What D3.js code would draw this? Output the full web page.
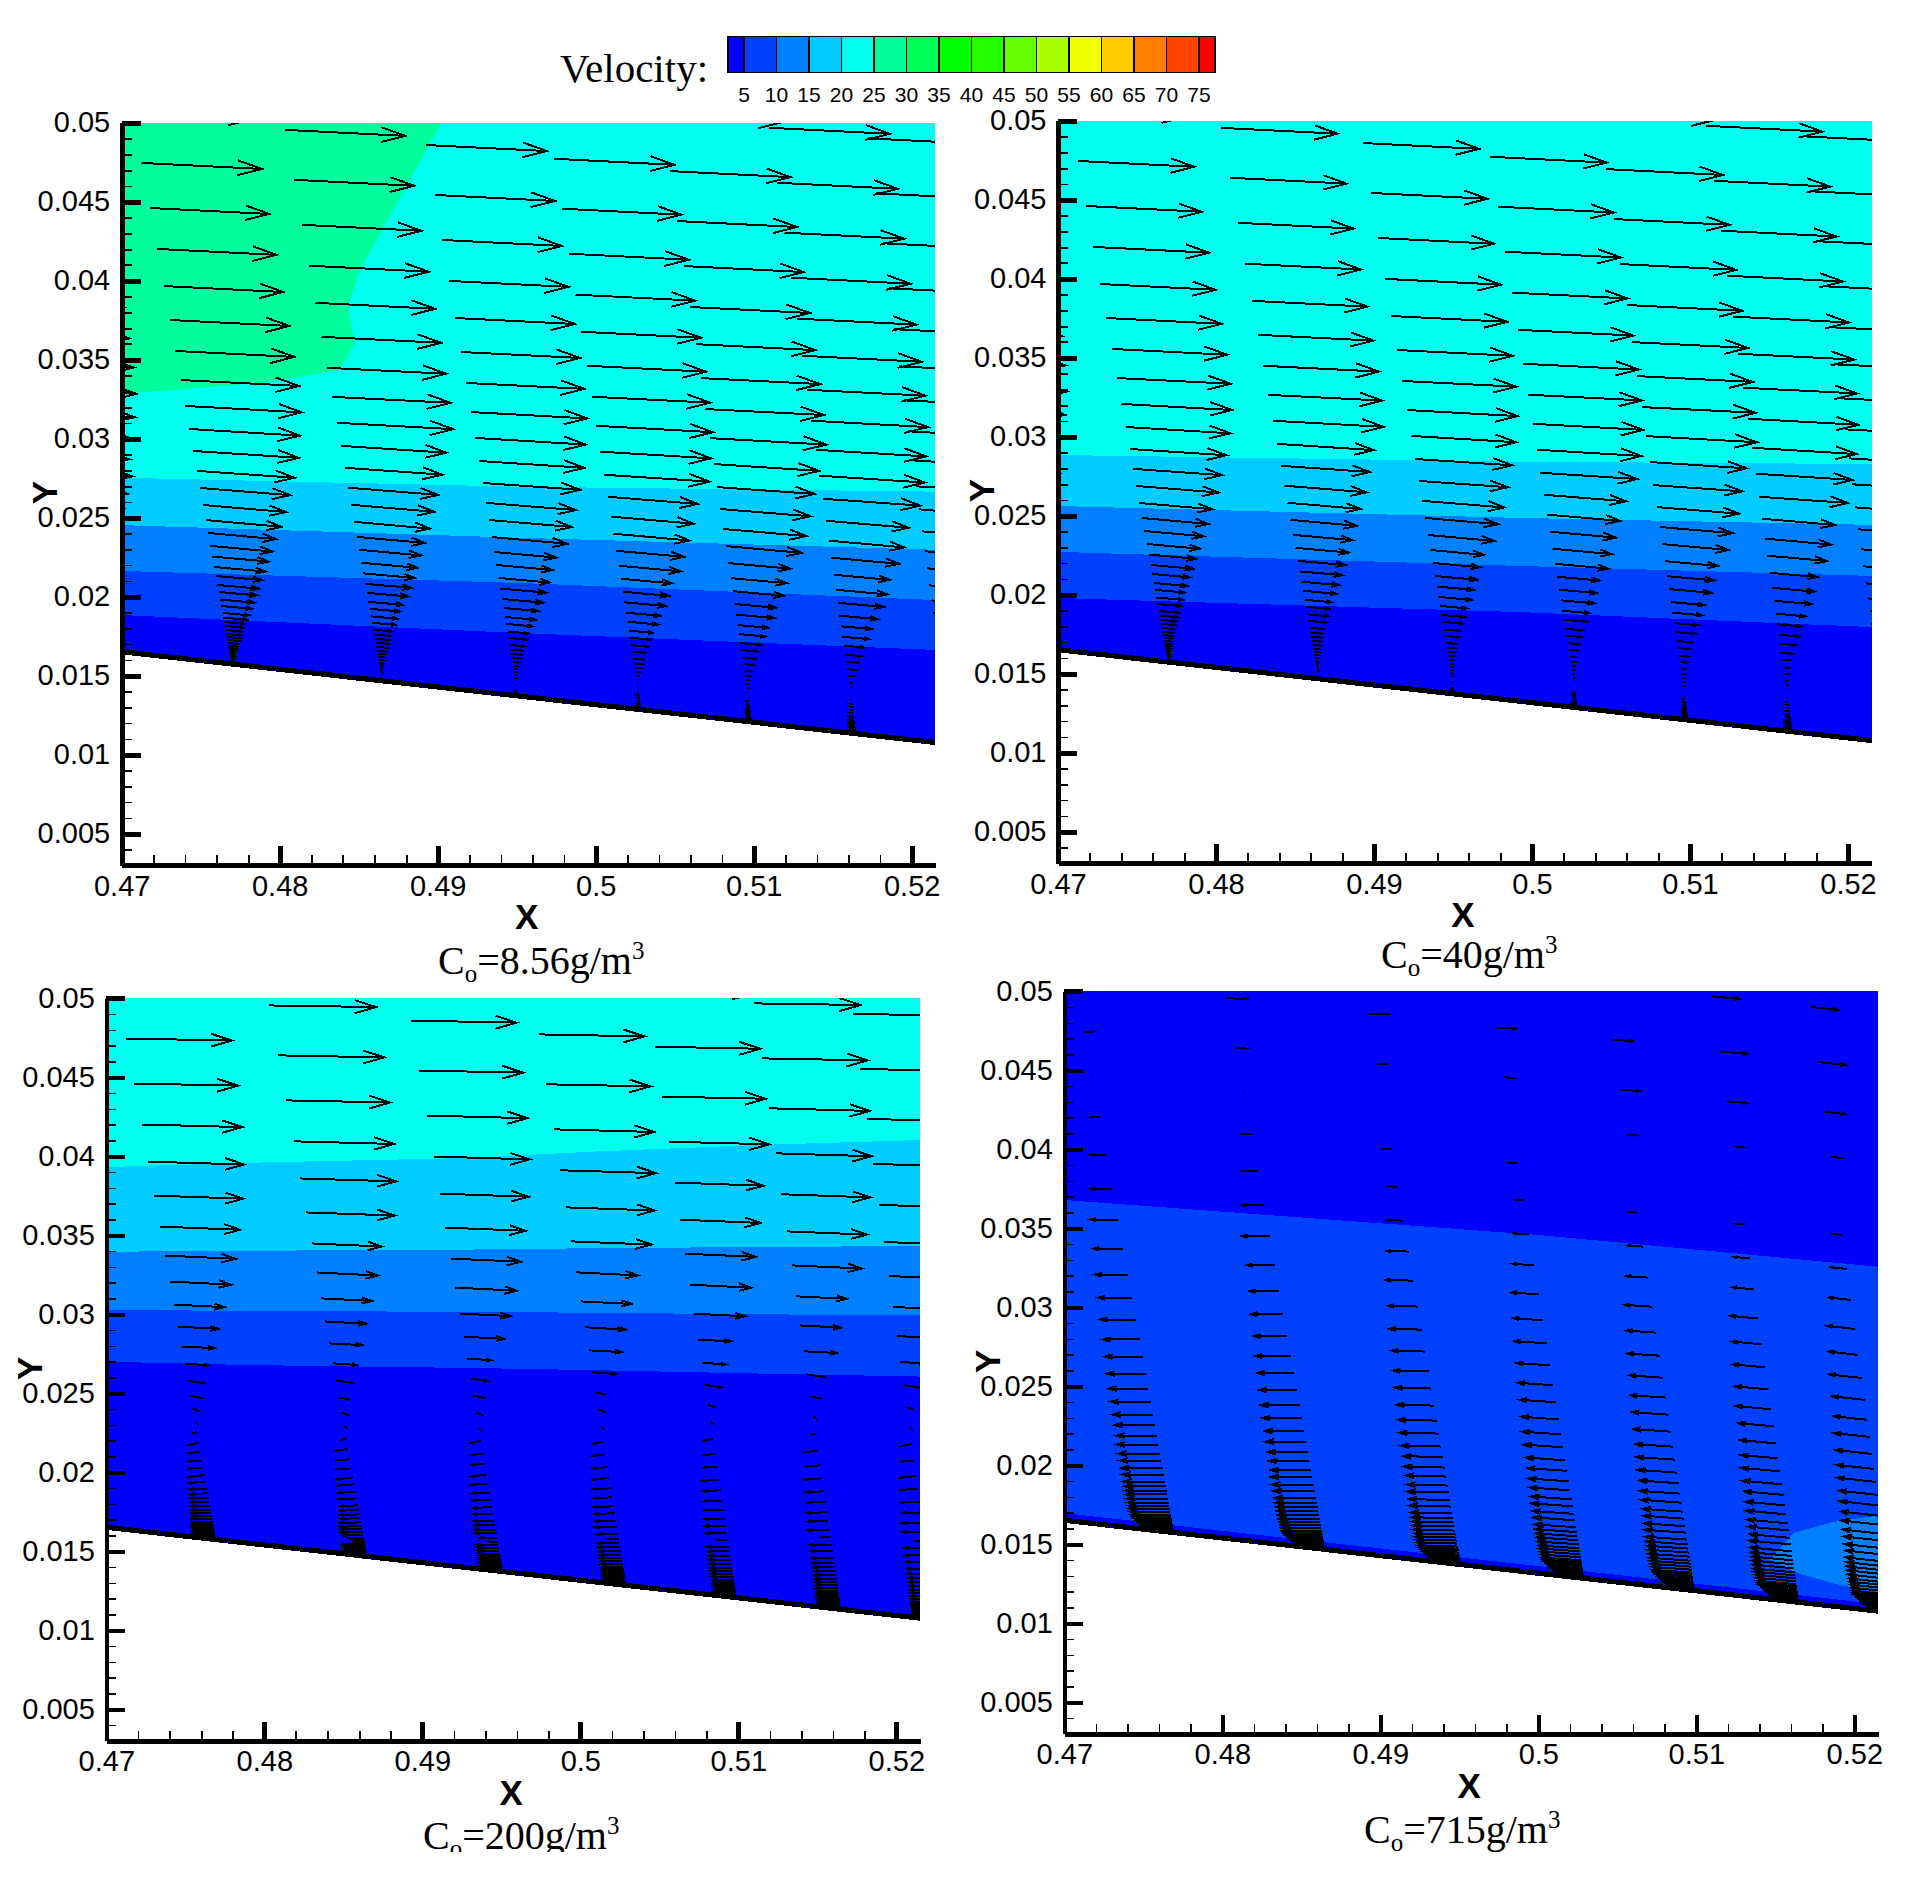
<!DOCTYPE html>
<html><head><meta charset="utf-8">
<style>
html,body{margin:0;padding:0;background:#fff}
svg{display:block}
text{fill:#000}
</style>
<script src="https://cdn.jsdelivr.net/npm/d3@7"></script>
</head><body>
<svg id="c" width="1910" height="1888"></svg>
<script>
// ---------- legend ----------
const legendLevels = [5,10,15,20,25,30,35,40,45,50,55,60,65,70,75];
const legendEdges  = [2.5,5,10,15,20,25,30,35,40,45,50,55,60,65,70,75,77.5];
const legendColors = ["#0000ff","#0040ff","#0080ff","#00ccff","#00ffee","#00ff9c","#00ff55","#00ff00","#22ff00","#66ff00","#aaff00","#eeff00","#ffcc00","#ff8000","#ff4400","#ff0000"];

// ---------- axes ----------
const xDomain = [0.47,0.5215];
const yDomain = [0.003,0.05];
const xMajor = [0.47,0.48,0.49,0.5,0.51,0.52];
const yMajor = [0.005,0.01,0.015,0.02,0.025,0.03,0.035,0.04,0.045,0.05];
const xMinor = [0.472,0.474,0.476,0.478,0.482,0.484,0.486,0.488,0.492,0.494,0.496,0.498,0.502,0.504,0.506,0.508,0.512,0.514,0.516,0.518];
const yMinor = d3.range(4,50).filter(v=>v%5).map(v=>v/1000);

// ---------- wall ----------
const wallX = [0.47,0.5215];
const wallY = [0.01652,0.01077];

// ---------- vector grid: stations along wall, heights above wall (x 1e-3) ----------
const stationX    = [0.4665,0.47696,0.4865,0.4951,0.5029,0.5099,0.5165,0.5225];
const stationLean = [0.18,0.18,0.177,0.167,0.159,0.149,0.1435,0.137];
const rowHeights  = [38.35,34.87,31.71,28.86,26.27,23.92,21.77,19.81,17.97,16.33,14.87,13.48,12.22,11.14,10.06,9.11,8.29,7.47,6.80,6.14,5.57,5.00,4.56,4.08,3.67,3.23,2.93,2.66,2.41,2.15,1.90,1.71,1.52,1.33,1.14,1.01,0.89,0.76,0.63,0.51,0.38,0.28,0.19,0.13];

// ---------- streamwise velocity by row ----------
const uP1 = [30.5,30.5,30.5,30.3,30.3,30.3,30.3,30.2,30,29.5,28,26.7,24.7,22.8,21,19.2,17.2,15.7,14.2,13,11.7,10.5,9.7,8.7,7.7,6.7,6,5.2,4.7,4.2,3.7,3.3,3,2.6,2.2,2,1.7,1.5,1.2,1,0.7,0.5,0.35,0.2];
const uP2 = [29.5,29.5,29.5,29.3,29.3,29.3,29.3,29.3,28.8,28,26.5,24.5,22.5,20.8,18.5,16.8,15,13.5,12,10.8,9.5,8.5,7.5,6.8,6,5.2,4.5,4,3.5,3,2.6,2.3,2,1.8,1.5,1.3,1.1,0.9,0.7,0.6,0.45,0.3,0.2,0.15];
const uP3 = [27,27,26.8,26.3,25.5,24.3,22.5,20.3,17.8,15.5,12.8,10.3,8.3,6,4.3,2.5,1.5,0.5,-1,-2.3,-3,-3.3,-3.5,-4,-4.3,-4.5,-4.5,-4.5,-4.5,-4.8,-4.8,-5,-5,-5.2,-5.2,-5.2,-5.5,-5.5,-5.5,-5.5,-5.2,-4.5,-3.5,-2.5];
const uP4 = [7,5,2.5,0.1,-2.3,-4,-5.5,-7,-7.5,-8.2,-8.5,-9,-9.2,-9.5,-9.8,-10,-10,-10.2,-10.2,-10.2,-10.5,-10.5,-10.5,-10.5,-10.5,-10.5,-10.5,-10.5,-10.5,-10.5,-10.4,-10.3,-10.2,-10.1,-10,-9.8,-9.5,-9,-8.5,-8,-7.5,-6.8,-6,-5];

// ---------- downward tilt of the vectors by row ----------
const tiltP1 = [0.05,0.05,0.05,0.05,0.05,0.05,0.05,0.05,0.05,0.055,0.06,0.065,0.07,0.08,0.085,0.09,0.09,0.09,0.09,0.09,0.09,0.09,0.09,0.09,0.09,0.09,0.09,0.09,0.09,0.09,0.09,0.09,0.09,0.09,0.09,0.09,0.09,0.09,0.09,0.09,0.09,0.09,0.09,0.09];
const tiltP2 = tiltP1;
const tiltP3 = [0.01,0.015,0.019,0.02,0.026,0.03,0.035,0.04,0.045,0.05,0.05,0.057,0.05,0.07,0.16,0.22,0.4,1,-0.3,-0.24,-0.14,-0.05,-0.07,-0.12,-0.08,-0.05,-0.05,-0.05,-0.04,-0.04,-0.03,-0.03,-0.02,-0.02,-0.02,-0.01,-0.01,0,0,0,0,0,0,0];
const tiltP4 = [0,0,0,0,0,0,0,0,0,0,0,0,0,0,0,0,0,0,0,0,0,0,0,0,0,0,0,0,0,0,0,0,0,0,0,0,0,0,0,0,0,0,0,0];
const colTiltP4 = [0,0,0.01,0.025,0.07,0.07,0.09,0.11];
const colTiltNone = [0,0,0,0,0,0,0,0];

// ---------- downstream shift of each profile (x 1e-3) ----------
const shiftP1 = [-0.6,0,0.7,1.33,1.96,2.34,2.97,3.3];
const shiftP2 = [-0.6,0,0.7,1.33,1.96,2.34,2.97,3.3];
const shiftP3 = [-0.6,0,0.95,1.9,2.85,3.73,4.5,4.94];
const shiftP4 = [0,0,-0.95,-1.27,-1.27,-1.58,-1.9,-2.2];

// ---------- near-wall reversed flow ----------
const backHP1 = [-0.6,-1.2,-1.9,-2.5,-3.2];
const backUP1 = [-0.1,-0.5,-1,-1.5,-2];
const backHP3 = [-0.5,-3];
const backUP3 = [-5.5,-5.5];
const backHP4 = [-0.5];
const backUP4 = [-4];

// ---------- contour band boundaries (data coordinates) ----------
const bandEdgeX1 = [0.47,0.4952,0.5215];
const bandsP1 = [
  ["#00ccff",[0.02753,0.02696,0.02665]],
  ["#0080ff",[0.02453,0.02373,0.02297]],
  ["#0040ff",[0.02163,0.02087,0.01979]],
  ["#0000ff",[0.01884,0.0177,0.01663]]];
const greenPatchP1 = [[0.47,0.05],[0.49025,0.05],[0.48508,0.04068],[0.48432,0.03835],[0.48477,0.03606],[0.48382,0.03435],[0.47886,0.03353],[0.47095,0.03291],[0.47,0.0329]];
const bandEdgeX2 = [0.47,0.4992,0.5215];
const bandsP2 = [
  ["#00ccff",[0.02884,0.02842,0.02827]],
  ["#0080ff",[0.02561,0.02486,0.02442]],
  ["#0040ff",[0.02271,0.02182,0.02119]],
  ["#0000ff",[0.01979,0.0189,0.01795]]];
const bandEdgeX3 = [0.47,0.47889,0.49321,0.50061,0.51137,0.5215];
const bandsP3 = [
  ["#00ccff",[0.03932,0.03959,0.0399,0.04029,0.04072,0.04103]],
  ["#0080ff",[0.03396,0.03402,0.0341,0.03418,0.03426,0.03432]],
  ["#0040ff",[0.03027,0.03022,0.03015,0.0301,0.03,0.02993]],
  ["#0000ff",[0.027,0.02679,0.0266,0.02647,0.02625,0.02606]]];
const bandEdgeX4 = [0.47,0.50011,0.5215];
const bandsP4 = [["#0040ff",[0.03679,0.03457,0.03257]]];
const lensP4 = [[0.51466,0.014],[0.51612,0.01571],[0.51865,0.01641],[0.5226,0.01698],[0.5226,0.01179],[0.51909,0.01242],[0.51637,0.01318]];
const wallStripP4 = 0.00045;

// ---------- panels ----------
const panelTitles = ["8.56","40","200","715"];
const panels = [
 {ax:121.7,top:122.7,u:uP1,tilt:tiltP1,colTilt:colTiltNone,shift:shiftP1,shiftMin:0,backH:backHP1,backU:backUP1,bg:"#00ffee",edge:bandEdgeX1,bands:bandsP1,titleX:438,titleY:974},
 {ax:1058,top:120.7,u:uP2,tilt:tiltP2,colTilt:colTiltNone,shift:shiftP2,shiftMin:0,backH:backHP1,backU:backUP1,bg:"#00ffee",edge:bandEdgeX2,bands:bandsP2,titleX:1381,titleY:968},
 {ax:106.3,top:998.3,u:uP3,tilt:tiltP3,colTilt:colTiltNone,shift:shiftP3,shiftMin:0,backH:backHP3,backU:backUP3,bg:"#00ffee",edge:bandEdgeX3,bands:bandsP3,titleX:423,titleY:1849},
 {ax:1064.3,top:991.3,u:uP4,tilt:tiltP4,colTilt:colTiltP4,shift:shiftP4,shiftMin:3,backH:backHP4,backU:backUP4,bg:"#0000ff",edge:bandEdgeX4,bands:bandsP4,titleX:1364,titleY:1843}
];
const PXW = 813.7, PXH = 742.6;         // plot frame size
const quiverScale = 0.00025;            // x-axis units per velocity unit
const barbFrac = 0.21, barbAngle = 17*Math.PI/180;
const PAST = 0.001;                     // fills run past the frame, the clip trims them

const svg = d3.select("#c");
const wall = d3.scaleLinear().domain(wallX).range(wallY);
const SANS = "'Liberation Sans',Arial,sans-serif", SERIF="'Liberation Serif','Times New Roman',serif";
const defs = svg.append("defs");
defs.append("clipPath").attr("id","pageClip").append("rect").attr("x",0).attr("y",0).attr("width",1910).attr("height",1852);

// legend
const lx = d3.scaleLinear().domain([5,75]).range([744,1199]);
const lg = svg.append("g");
lg.append("text").attr("x",560).attr("y",81.5).attr("font-family",SERIF).attr("font-size",41).text("Velocity:");
lg.selectAll("rect").data(legendColors).join("rect")
  .attr("x",(d,i)=>lx(legendEdges[i])).attr("width",(d,i)=>lx(legendEdges[i+1])-lx(legendEdges[i]))
  .attr("y",36.5).attr("height",36).attr("fill",d=>d).attr("stroke","#000").attr("stroke-width",1.6).attr("shape-rendering","crispEdges");
lg.selectAll("text.lv").data(legendLevels).join("text").attr("class","lv")
  .attr("x",d=>lx(d)).attr("y",101.5)
  .attr("text-anchor","middle").attr("font-family",SANS).attr("font-size",21).text(d=>d);

panels.forEach((P,pi)=>{
  const x = d3.scaleLinear().domain(xDomain).range([P.ax,P.ax+PXW]);
  const yTop = P.top, yBot = P.top+PXH;
  const y = d3.scaleLinear().domain(yDomain).range([yBot,yTop]);
  const g = svg.append("g");
  const cid="clip"+pi;
  const cx0=Math.round(P.ax), cx1=Math.round(P.ax+PXW), cy0=Math.round(yTop), cy1=Math.round(yBot);
  defs.append("clipPath").attr("id",cid).append("rect").attr("x",cx0).attr("y",cy0).attr("width",cx1-cx0).attr("height",cy1-cy0);
  const plot = g.append("g").attr("clip-path",`url(#${cid})`).attr("shape-rendering","crispEdges");
  const line = d3.line().x(d=>x(d[0])).y(d=>y(d[1]));
  const xEnd = xDomain[1]+PAST, yEnd = yDomain[0]-PAST;
  plot.append("path").attr("d",line([[xDomain[0],yDomain[1]],[xEnd,yDomain[1]],[xEnd,yEnd],[xDomain[0],yEnd]])+"Z").attr("fill",P.bg);
  if(pi===0) plot.append("path").attr("d",line(greenPatchP1)+"Z").attr("fill","#00ff9c");
  P.bands.forEach(([col,ys])=>{
    const pts = ys.map((v,i)=>[P.edge[i],v]);
    pts.push([xEnd,ys[ys.length-1]],[xEnd,yEnd],[xDomain[0],yEnd]);
    plot.append("path").attr("d",line(pts)+"Z").attr("fill",col);
  });
  const wallEnd = wall(xEnd);
  if(pi===3){
    plot.append("path").attr("d",line(lensP4)+"Z").attr("fill","#0080ff");
    const s=[[wallX[0],wallY[0]+wallStripP4],[xEnd,wallEnd+wallStripP4],[xEnd,yEnd],[xDomain[0],yEnd]];
    plot.append("path").attr("d",line(s)+"Z").attr("fill","#0000ff");
  }
  // white below wall
  plot.append("path").attr("d",line([[wallX[0],wallY[0]],[xEnd,wallEnd],[xEnd,yEnd],[xDomain[0],yEnd]])+"Z").attr("fill","#fff");
  // wall
  plot.append("path").attr("d",line([[wallX[0],wallY[0]],[xEnd,wallEnd]])).attr("fill","none").attr("stroke","#000").attr("stroke-width",5.2);

  // vectors
  const allH = rowHeights.concat(P.backH), allU = P.u.concat(P.backU);
  const allT = P.tilt.concat(P.backH.map(()=>0));
  const vp = d3.path();
  stationX.forEach((sx,c)=>{
    rowHeights.forEach((h)=>{
      const target = h<P.shiftMin ? h : h-P.shift[c];
      let j=0, best=1e9;
      allH.forEach((H,k)=>{const e=Math.abs(H-target); if(e<best){best=e;j=k;}});
      const u=allU[j], tilt=allT[j]+P.colTilt[c];
      const x0 = sx-stationLean[c]*h/1000, y0 = wall(sx)+h/1000;
      const dxD=u*quiverScale, dyD=-tilt*u*quiverScale;
      const tx=x(x0), ty=y(y0), hx=x(x0+dxD), hy=y(y0+dyD);
      const vx=tx-hx, vy=ty-hy, L=Math.hypot(vx,vy);
      vp.moveTo(tx,ty); vp.lineTo(hx,hy);
      if(L>0.5){
        const b=L*barbFrac, a0=Math.atan2(vy,vx);
        vp.moveTo(hx+b*Math.cos(a0+barbAngle),hy+b*Math.sin(a0+barbAngle));
        vp.lineTo(hx,hy);
        vp.lineTo(hx+b*Math.cos(a0-barbAngle),hy+b*Math.sin(a0-barbAngle));
      }
    });
  });
  plot.append("path").attr("d",vp.toString()).attr("fill","none").attr("stroke","#000").attr("stroke-width",2).attr("stroke-linejoin","miter");

  // axes via d3.axis
  const style=(sel,w)=>{sel.selectAll("line").attr("stroke","#000").attr("stroke-width",w).attr("shape-rendering","crispEdges");};
  const axMinY=g.append("g").attr("transform",`translate(${P.ax},0)`).call(d3.axisLeft(y).tickValues(yMinor).tickSizeInner(-10).tickSizeOuter(0).tickFormat(""));
  axMinY.select(".domain").remove(); style(axMinY,1.8);
  const axMinX=g.append("g").attr("transform",`translate(0,${yBot})`).call(d3.axisBottom(x).tickValues(xMinor).tickSizeInner(-10).tickSizeOuter(0).tickFormat(""));
  axMinX.select(".domain").remove(); style(axMinX,1.8);
  const axY=g.append("g").attr("transform",`translate(${P.ax},0)`).call(d3.axisLeft(y).tickValues(yMajor).tickSizeInner(-19).tickSizeOuter(0).tickPadding(11.5).tickFormat(d=>String(d)));
  const axX=g.append("g").attr("transform",`translate(0,${yBot})`).call(d3.axisBottom(x).tickValues(xMajor).tickSizeInner(-19).tickSizeOuter(0).tickPadding(10).tickFormat(d=>String(d)));
  [axY,axX].forEach(a=>{
    style(a,4.6);
    a.select(".domain").attr("stroke","#000").attr("stroke-width",4.6).attr("shape-rendering","crispEdges");
    a.attr("font-family",SANS).attr("font-size",29);
    a.selectAll("text").attr("fill","#000");
  });
  // axis titles
  g.append("text").attr("transform",`translate(${P.ax-77},${yTop+370}) rotate(-90)`).attr("text-anchor","middle").attr("dy","0.36em")
    .attr("font-family",SANS).attr("font-weight","bold").attr("font-size",35).text("Y");
  g.append("text").attr("x",P.ax+405).attr("y",yTop+794).attr("text-anchor","middle").attr("dy","0.36em")
    .attr("font-family",SANS).attr("font-weight","bold").attr("font-size",35).text("X");
  // panel title
  const t=g.append("text").attr("x",P.titleX).attr("y",P.titleY).attr("font-family",SERIF).attr("font-size",40).attr("clip-path","url(#pageClip)");
  t.append("tspan").text("C");
  t.append("tspan").attr("font-size",25).attr("dy",8).text("o");
  t.append("tspan").attr("dy",-8).text("="+panelTitles[pi]+"g/m");
  t.append("tspan").attr("font-size",25).attr("dy",-15).text("3");
});
</script>
</body></html>
